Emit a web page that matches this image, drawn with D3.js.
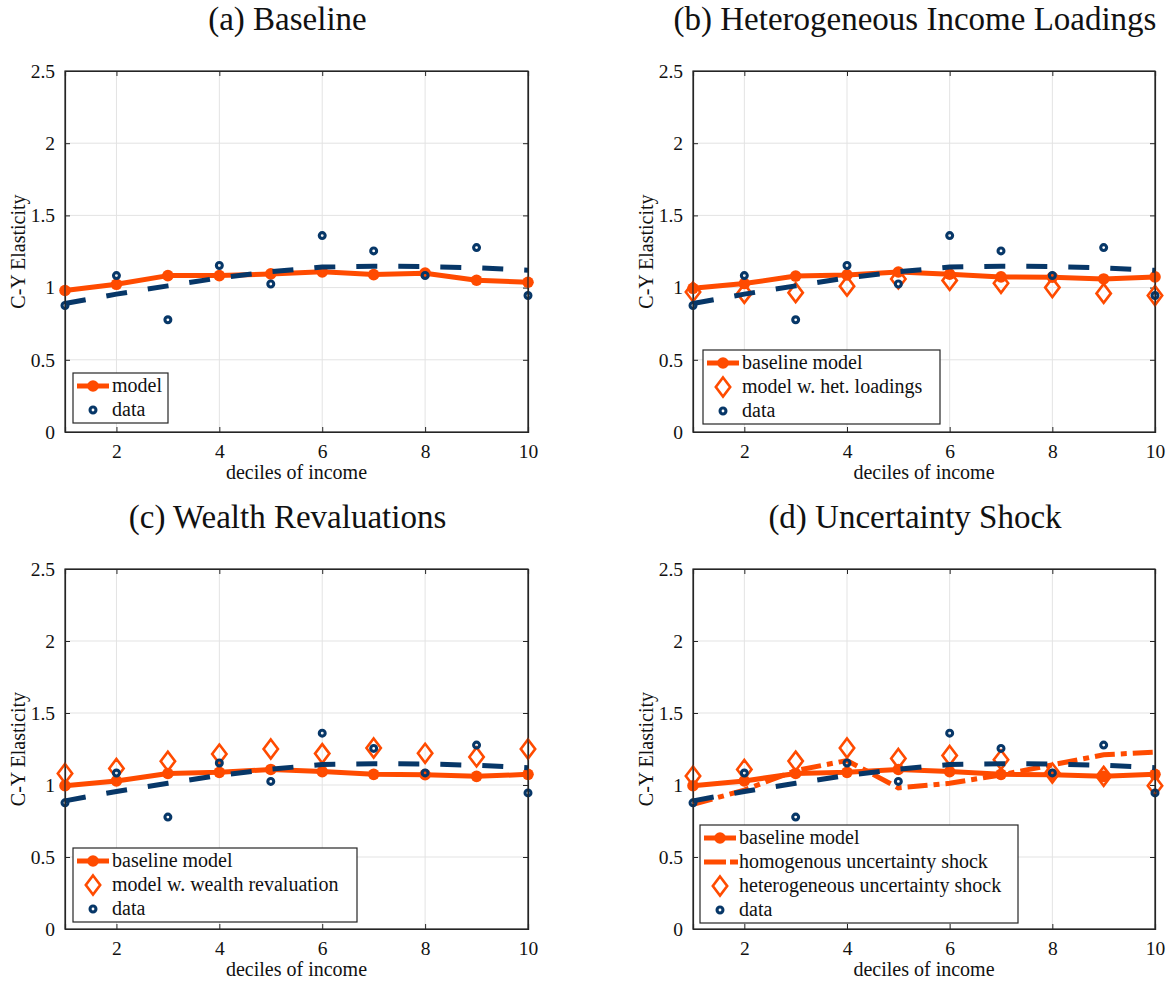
<!DOCTYPE html>
<html>
<head>
<meta charset="utf-8">
<script src="https://cdn.jsdelivr.net/npm/d3@7"></script>
<style>
  html, body { margin: 0; padding: 0; background: #fff; }
  svg { display: block; }
  text { font-family: "Liberation Serif", "Times New Roman", serif; fill: #111; }
</style>
</head>
<body>
<svg id="chart" width="1171" height="983"></svg>
<script>
// ---------------- data ----------------
const deciles = [1, 2, 3, 4, 5, 6, 7, 8, 9, 10];
const dataElasticity = [0.876, 1.083, 0.777, 1.153, 1.025, 1.360, 1.254, 1.084, 1.277, 0.945];
const dataFit = [0.89, 0.955, 1.012, 1.067, 1.11, 1.142, 1.148, 1.146, 1.137, 1.12];
const modelBaselineA = [0.980, 1.023, 1.083, 1.083, 1.095, 1.109, 1.090, 1.100, 1.051, 1.037];
const modelBaseline = [0.995, 1.028, 1.080, 1.088, 1.108, 1.093, 1.074, 1.072, 1.060, 1.074];
const modelHetLoadings = [0.970, 0.960, 0.965, 1.010, 1.060, 1.050, 1.030, 1.000, 0.960, 0.945];
const modelWealthReval = [1.080, 1.115, 1.165, 1.215, 1.250, 1.218, 1.257, 1.220, 1.195, 1.250];
const homUncertainty = [0.865, 0.965, 1.100, 1.170, 0.980, 1.012, 1.070, 1.140, 1.210, 1.228];
const hetUncertainty = [1.062, 1.108, 1.166, 1.257, 1.184, 1.205, 1.175, 1.083, 1.060, 0.995];
const xTicks = [2, 4, 6, 8, 10];
const yTicks = [0, 0.5, 1, 1.5, 2, 2.5];
const titles = ["(a) Baseline", "(b) Heterogeneous Income Loadings", "(c) Wealth Revaluations", "(d) Uncertainty Shock"];

// ---------------- styles ----------------
const ORANGE = "#ff4b00";
const NAVY = "#073768";
const AXIS = "#262626";
const GRID = "#e3e3e3";

const svg = d3.select("#chart");

const panels = [
  { title: titles[0], left: 65, top: 71, w: 463, h: 361,
    series: [
      { type: "lineMarker", values: modelBaselineA }
    ],
    legend: { x: 73, y: 373, w: 95 },
    legendRows: [["lineMarker", "model"], ["circle", "data"]] },
  { title: titles[1], left: 693, top: 71, w: 462, h: 361,
    series: [
      { type: "lineMarker", values: modelBaseline },
      { type: "diamond", values: modelHetLoadings }
    ],
    legend: { x: 703, y: 350, w: 237 },
    legendRows: [["lineMarker", "baseline model"], ["diamond", "model w. het. loadings"], ["circle", "data"]] },
  { title: titles[2], left: 65, top: 569, w: 463, h: 360,
    series: [
      { type: "lineMarker", values: modelBaseline },
      { type: "diamond", values: modelWealthReval }
    ],
    legend: { x: 73, y: 848, w: 284 },
    legendRows: [["lineMarker", "baseline model"], ["diamond", "model w. wealth revaluation"], ["circle", "data"]] },
  { title: titles[3], left: 693, top: 569, w: 462, h: 360,
    series: [
      { type: "lineMarker", values: modelBaseline },
      { type: "dashdot", values: homUncertainty },
      { type: "diamond", values: hetUncertainty }
    ],
    legend: { x: 700, y: 825, w: 318 },
    legendRows: [["lineMarker", "baseline model"], ["dashdot", "homogenous uncertainty shock"], ["diamond", "heterogeneous uncertainty shock"], ["circle", "data"]] }
];

function diamondPath(cx, cy, hw, hh) {
  return `M${cx},${cy - hh}L${cx + hw},${cy}L${cx},${cy + hh}L${cx - hw},${cy}Z`;
}

function drawMarker(g, type, cx, cy) {
  if (type === "lineMarker") {
    g.append("circle").attr("cx", cx).attr("cy", cy).attr("r", 5.8).attr("fill", ORANGE);
  } else if (type === "diamond") {
    g.append("path").attr("d", diamondPath(cx, cy, 7.2, 9.5))
      .attr("fill", "none").attr("stroke", ORANGE).attr("stroke-width", 2.6);
  } else if (type === "circle") {
    g.append("circle").attr("cx", cx).attr("cy", cy).attr("r", 2.95)
      .attr("fill", "none").attr("stroke", NAVY).attr("stroke-width", 3.1);
  }
}

panels.forEach(p => {
  const x = d3.scaleLinear().domain([1, 10]).range([0, p.w]);
  const y = d3.scaleLinear().domain([0, 2.5]).range([p.h, 0]);
  const g = svg.append("g").attr("transform", `translate(${p.left},${p.top})`);

  // grid
  g.append("g").selectAll("line").data(xTicks).join("line")
    .attr("x1", d => x(d)).attr("x2", d => x(d)).attr("y1", 0).attr("y2", p.h)
    .attr("stroke", GRID).attr("stroke-width", 1);
  g.append("g").selectAll("line").data(yTicks).join("line")
    .attr("y1", d => y(d)).attr("y2", d => y(d)).attr("x1", 0).attr("x2", p.w)
    .attr("stroke", GRID).attr("stroke-width", 1);

  // axes via d3 (inner ticks)
  const ax = g.append("g").attr("transform", `translate(0,${p.h})`)
    .call(d3.axisBottom(x).tickValues(xTicks).tickSize(-5).tickPadding(12).tickFormat(d3.format("d")));
  const axTop = g.append("g")
    .call(d3.axisTop(x).tickValues(xTicks).tickSize(-5).tickFormat(""));
  const ay = g.append("g")
    .call(d3.axisLeft(y).tickValues(yTicks).tickSize(-5).tickPadding(10).tickFormat(d => d3.format("")(d)));
  const ayR = g.append("g").attr("transform", `translate(${p.w},0)`)
    .call(d3.axisRight(y).tickValues(yTicks).tickSize(-5).tickFormat(""));
  [ax, axTop, ay, ayR].forEach(a => {
    a.select(".domain").attr("stroke", AXIS).attr("stroke-width", 1.2);
    a.selectAll(".tick line").attr("stroke", AXIS).attr("stroke-width", 1);
    a.selectAll(".tick text").attr("font-family", "Liberation Serif, serif").attr("font-size", 19.5).attr("fill", "#111");
  });

  // series: orange first
  p.series.forEach(s => {
    const pts = deciles.map((d, i) => [x(d), y(s.values[i])]);
    if (s.type === "lineMarker") {
      g.append("path").attr("d", d3.line()(pts)).attr("fill", "none")
        .attr("stroke", ORANGE).attr("stroke-width", 5).attr("stroke-linejoin", "round");
      pts.forEach(pt => drawMarker(g, "lineMarker", pt[0], pt[1]));
    } else if (s.type === "dashdot") {
      g.append("path").attr("d", d3.line()(pts)).attr("fill", "none")
        .attr("stroke", ORANGE).attr("stroke-width", 5).attr("stroke-dasharray", "20,6,6,6");
    } else if (s.type === "diamond") {
      pts.forEach(pt => drawMarker(g, "diamond", pt[0], pt[1]));
    }
  });

  // fitted data line (navy dashed)
  const fitPts = deciles.map((d, i) => [x(d), y(dataFit[i])]);
  g.append("path").attr("d", d3.line()(fitPts)).attr("fill", "none")
    .attr("stroke", NAVY).attr("stroke-width", 5).attr("stroke-dasharray", "21,21");

  // data circles
  deciles.forEach((d, i) => drawMarker(g, "circle", x(d), y(dataElasticity[i])));

  // box on top
  g.append("rect").attr("x", 0).attr("y", 0).attr("width", p.w).attr("height", p.h)
    .attr("fill", "none").attr("stroke", AXIS).attr("stroke-width", 1.2);

  // labels
  g.append("text").attr("x", p.w / 2).attr("y", p.h + 47).attr("text-anchor", "middle")
    .attr("font-size", 20).text("deciles of income");
  g.append("text").attr("transform", `translate(${-40},${p.h / 2}) rotate(-90)`)
    .attr("text-anchor", "middle").attr("font-size", 20).text("C-Y Elasticity");
  g.append("text").attr("x", p.w / 2 - 9).attr("y", -41).attr("text-anchor", "middle")
    .attr("font-size", 33).text(p.title);

  // legend
  const L = p.legend, rowH = 24;
  const lg = svg.append("g").attr("transform", `translate(${L.x},${L.y})`);
  lg.append("rect").attr("x", 0).attr("y", 0).attr("width", L.w).attr("height", p.legendRows.length * rowH + 2)
    .attr("fill", "#fff").attr("stroke", AXIS).attr("stroke-width", 1.2);
  p.legendRows.forEach((r, i) => {
    const cy = 13 + i * rowH;
    if (r[0] === "lineMarker") {
      lg.append("line").attr("x1", 4).attr("x2", 36).attr("y1", cy).attr("y2", cy)
        .attr("stroke", ORANGE).attr("stroke-width", 5);
      drawMarker(lg, "lineMarker", 20, cy);
    } else if (r[0] === "dashdot") {
      lg.append("line").attr("x1", 4).attr("x2", 40).attr("y1", cy).attr("y2", cy)
        .attr("stroke", ORANGE).attr("stroke-width", 5).attr("stroke-dasharray", "22,4,8,4");
    } else {
      drawMarker(lg, r[0], 20, cy);
    }
    lg.append("text").attr("x", 39).attr("y", cy + 6).attr("font-size", 20).text(r[1]);
  });
});
</script>
</body>
</html>
